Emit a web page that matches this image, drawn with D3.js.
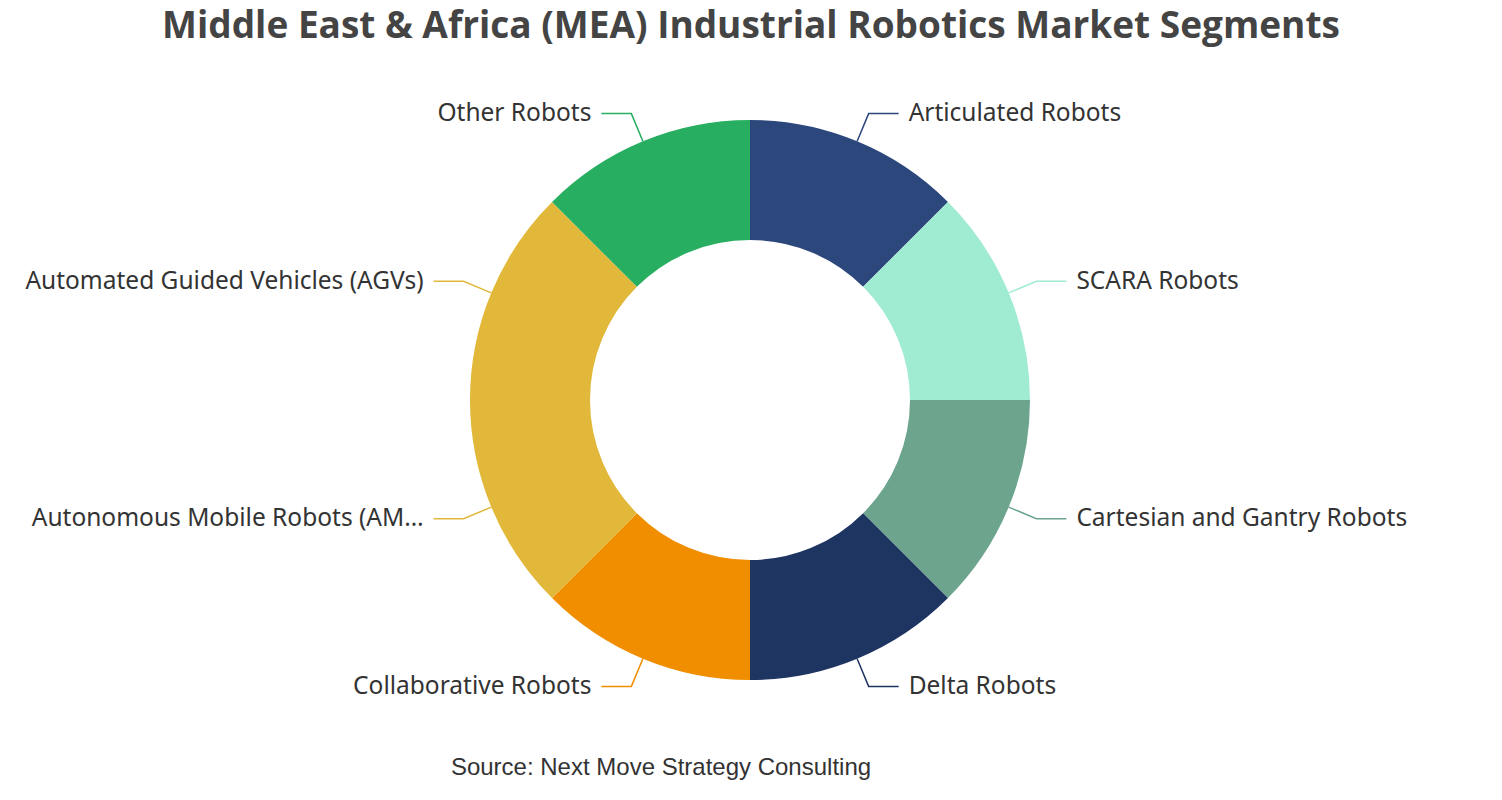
<!DOCTYPE html>
<html><head><meta charset="utf-8">
<script src="https://cdn.jsdelivr.net/npm/d3@7"></script>
<style>body{margin:0;background:#fff;}svg{display:block;}</style>
</head><body>
<svg id="chart" width="1502" height="800"></svg>
<script>
const categories = ["Articulated Robots","SCARA Robots","Cartesian and Gantry Robots","Delta Robots","Collaborative Robots","Autonomous Mobile Robots (AMRs)","Automated Guided Vehicles (AGVs)","Other Robots"];
const values = [12.5,12.5,12.5,12.5,12.5,12.5,12.5,12.5];
const colors = ["#2b477c","#a0ecd2","#6ca48e","#1e3461","#f08e00","#e2b83a","#e2b83a","#27ae60"];
const titleText = "Middle East & Africa (MEA) Industrial Robotics Market Segments";
const sourceText = "Source: Next Move Strategy Consulting";

const svg = d3.select("#chart");
const cx = 750, cy = 400, rOuter = 280, rInner = 160, len1 = 30, len2 = 30, maxLabelW = 404;
const data = categories.map((c,i)=>({name:c,value:values[i],color:colors[i]}));
const pie = d3.pie().value(d=>d.value).sort(null);
const arc = d3.arc().innerRadius(rInner).outerRadius(rOuter);
const arcs = pie(data);
const g = svg.append("g").attr("transform",`translate(${cx},${cy})`);
g.selectAll("path.slice").data(arcs).join("path").attr("class","slice")
  .attr("d",arc).attr("fill",d=>d.data.color);

const labelFont = "'Noto Sans', 'Open Sans', sans-serif";
arcs.forEach(a=>{
  const mid=(a.startAngle+a.endAngle)/2;
  const sx=Math.sin(mid), sy=-Math.cos(mid);
  const p0=[sx*rOuter, sy*rOuter];
  const p1=[sx*(rOuter+len1), sy*(rOuter+len1)];
  const right = sx>=0;
  const p2=[p1[0]+(right?len2:-len2), p1[1]];
  g.append("polyline").attr("points",[p0,p1,p2].map(p=>p.join(",")).join(" "))
    .attr("fill","none").attr("stroke",a.data.color).attr("stroke-width",1.5);
  const t=g.append("text").attr("x",p2[0]+(right?10:-10)).attr("y",p2[1])
    .attr("dy","0.3em").attr("text-anchor",right?"start":"end")
    .attr("font-family",labelFont).attr("font-size",24.5).attr("fill","#333")
    .text(a.data.name);
  let s=a.data.name;
  if(t.node().getComputedTextLength()>maxLabelW){
    while(s.length>1){ s=s.slice(0,-1); t.text(s.trimEnd()+"…"); if(t.node().getComputedTextLength()<=maxLabelW) break; }
  }
});

svg.append("text").attr("x",751).attr("y",38).attr("text-anchor","middle")
  .attr("font-family","'Open Sans', 'Noto Sans', sans-serif").attr("font-weight","bold")
  .attr("font-size",37).attr("fill","#444").text(titleText);
svg.append("text").attr("x",661).attr("y",775).attr("text-anchor","middle")
  .attr("font-family","'Liberation Sans', Arial, sans-serif").attr("font-size",24)
  .attr("fill","#333").text(sourceText);
</script>
</body></html>
